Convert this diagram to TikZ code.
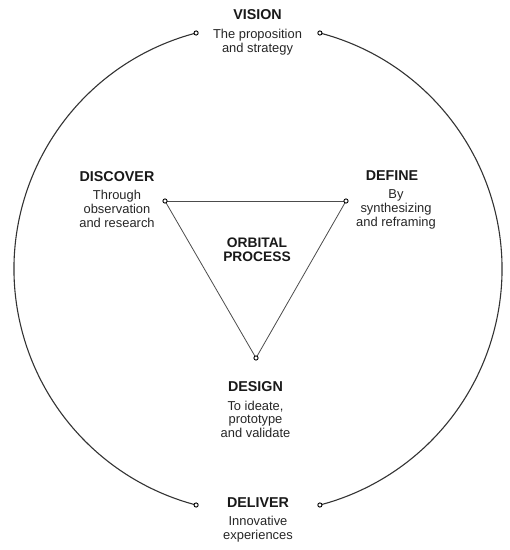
\documentclass[tikz,border=0pt]{standalone}
\usepackage{fontspec}
\setmainfont{Liberation Sans}
\usetikzlibrary{calc, positioning}

\begin{document}
\begin{tikzpicture}[x=1pt, y=1pt,
	stage/.style={font=\bfseries\fontsize{14.3}{16}\selectfont, text=black!90, inner sep=0pt},
	blurb/.style={align=center, font=\fontsize{12.9}{13.8}\selectfont, text=black!85, inner sep=0pt},
	orbit/.style={draw=black!80, line width=1.1pt},
	edge/.style={draw=black!70, line width=0.8pt},
	pin/.style={circle, draw=black, fill=white, line width=0.9pt, inner sep=0pt, minimum size=4.2pt}]

	\useasboundingbox (0,0) rectangle (510,550);

	\coordinate (orbit_center) at (258,281);
	\def\orbitRadius{244}

	\coordinate (vision_left) at ($(orbit_center)+(104.7:\orbitRadius)$);
	\coordinate (vision_right) at ($(orbit_center)+(75.3:\orbitRadius)$);
	\coordinate (deliver_left) at ($(orbit_center)+(255.3:\orbitRadius)$);
	\coordinate (deliver_right) at ($(orbit_center)+(284.7:\orbitRadius)$);

	\coordinate (discover_pt) at (165,349);
	\coordinate (define_pt) at (346,349);
	\coordinate (design_pt) at (256,192);

	% Outer orbit
	\draw[orbit] (vision_left) arc[start angle=104.7, end angle=255.3, radius=\orbitRadius];
	\draw[orbit] (vision_right) arc[start angle=75.3, end angle=-75.3, radius=\orbitRadius];

	% Inner triangle
	\draw[edge] (discover_pt) -- (define_pt);
	\draw[edge] (define_pt) -- (design_pt);
	\draw[edge] (design_pt) -- (discover_pt);

	% Pins
	\node[pin] (vision_left_pin) at (vision_left) {};
	\node[pin] (vision_right_pin) at (vision_right) {};
	\node[pin] (deliver_left_pin) at (deliver_left) {};
	\node[pin] (deliver_right_pin) at (deliver_right) {};
	\node[pin] (discover_pin) at (discover_pt) {};
	\node[pin] (define_pin) at (define_pt) {};
	\node[pin] (design_pin) at (design_pt) {};

	% Labels
	\node[stage, anchor=base] (vision) at (257.5,530) {VISION};
	\node[blurb, below=8.5pt of vision] (vision_text) {The proposition\\and strategy};

	\node[stage, anchor=base] (discover) at (117,368.5) {DISCOVER};
	\node[blurb, below=8.5pt of discover] (discover_text) {Through\\observation\\and research};

	\node[stage, anchor=base] (define) at (392,369) {DEFINE};
	\node[blurb, below=8.5pt of define, xshift=4pt] (define_text) {By\\synthesizing\\and reframing};

	\node[stage, align=center, anchor=north, font=\bfseries\fontsize{13.8}{13.4}\selectfont]
		(orbital) at (257,312) {ORBITAL\\PROCESS};

	\node[stage, anchor=base] (design) at (255.5,158.3) {DESIGN};
	\node[blurb, below=8.5pt of design] (design_text) {To ideate,\\prototype\\and validate};

	\node[stage, anchor=base] (deliver) at (258,42.7) {DELIVER};
	\node[blurb, below=8.5pt of deliver] (deliver_text) {Innovative\\experiences};

\end{tikzpicture}
\end{document}
